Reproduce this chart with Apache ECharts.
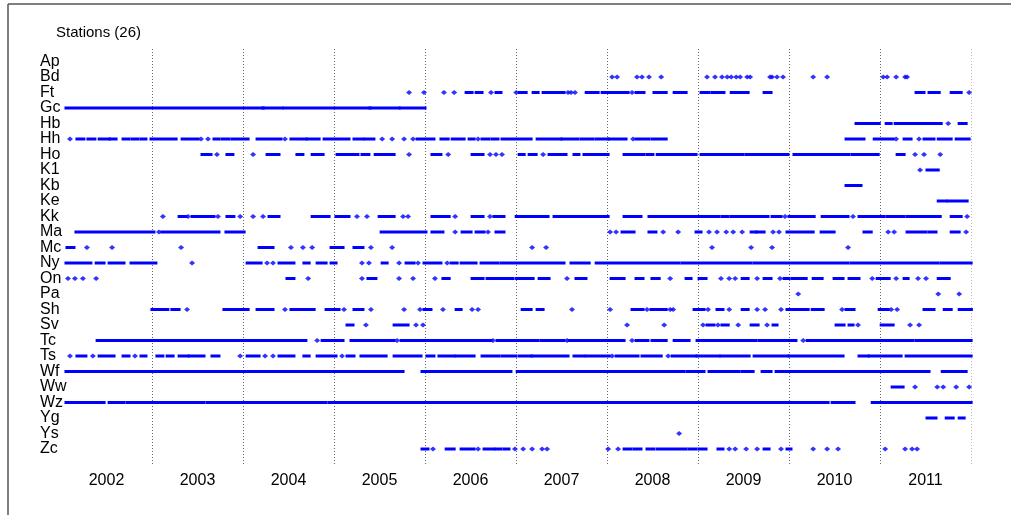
<!DOCTYPE html>
<html><head><meta charset="utf-8">
<script src="https://cdn.jsdelivr.net/npm/echarts@6/dist/echarts.min.js"></script>
<style>html,body{margin:0;padding:0;background:#fff}#c{width:1011px;height:515px}</style>
</head><body><div id="c"></div>
<script>
// Values are day offsets from 1 Jan 2002; a number is one observation, [a,b] a continuous run.
const stations = ['Ap','Bd','Ft','Gc','Hb','Hh','Ho','K1','Kb','Ke','Kk','Ma','Mc','Ny','On','Pa','Sh','Sv','Tc','Ts','Wf','Ww','Wz','Yg','Ys','Zc'];
const years = ['2002','2003','2004','2005','2006','2007','2008','2009','2010','2011'];
const Ap = [];
const Bd = [2212,2232,2312,2332,2360,2409,2593,2625,2653,2674,2690,2710,2726,2754,2766,2846,2854,2874,2898,3019,3075,3300,3316,3352,3388,3396];
const Ft = [1397,1457,1537,1578,[1630,1646],[1670,1686],1726,[1750,1762],1827,[1843,1863],[1899,1911],[1939,2015],2035,2047,2063,[2112,2152],[2176,2272],2292,[2312,2336],[2384,2425],[2465,2505],[2573,2597],[2617,2657],[2694,2754],[2826,2846],[3436,3460],[3488,3521],[3577,3609],3645];
const Gc = [[24,807],[815,883],[899,1236],[1244,1353],[1365,1457]];
const Hb = [[3195,3280],[3316,3328],[3352,3500],[3517,3529],3561,[3609,3629]];
const Hh = [36,[68,88],[112,132],[157,189],[201,217],[253,269],[289,305],[325,337],[365,458],[490,546],562,590,[618,630],[650,670],[690,747],[791,879],899,[927,979],[992,1032],[1060,1152],[1180,1208],[1224,1252],1289,1329,1377,1413,[1433,1493],[1529,1550],[1574,1614],[1642,1654],1674,[1694,1714],[1734,1750],[1774,1883],[1915,2003],[2015,2071],[2091,2132],[2152,2192],[2204,2264],2296,[2312,2356],[2376,2425],[3155,3219],[3268,3336],3352,[3388,3408],3444,[3468,3500],[3525,3569],[3597,3641]];
const Ho = [[570,598],626,[670,686],771,[831,871],[951,967],[1012,1048],[1112,1188],[1212,1232],[1265,1293],[1305,1333],1397,[1493,1521],1554,[1654,1690],1722,1746,1770,[1843,1855],[1883,1903],1935,[1963,2023],[2063,2075],[2103,2192],[2264,2292],[2300,2336],[2356,2372],[2397,2465],[2477,2545],[2573,2605],[2617,2637],[2653,2734],[2754,2914],[2946,3019],[3035,3159],[3179,3276],[3360,3380],3428,3464,3529];
const K1 = [3448,[3480,3517]];
const Kb = [[3155,3207]];
const Ke = [[3525,3549],[3565,3633]];
const Kk = [409,[478,498],510,[530,610],630,[670,690],719,771,811,[839,871],[1012,1072],[1108,1152],1188,1228,[1281,1333],1373,1393,[1493,1554],1582,[1654,1690],1722,[1742,1774],[1831,1951],[1983,2192],[2264,2324],[2364,2577],[2593,2637],[2657,2674],[2694,2738],[2754,2834],[2858,2886],2906,[2926,3019],[3059,3155],3179,[3207,3300],[3320,3380],[3400,3476],[3488,3525],[3577,3609],3637];
const Ma = [[64,369],393,[409,630],[666,731],[1289,1461],[1493,1529],1582,[1614,1642],[1670,1694],1714,[1750,1774],2204,2228,[2256,2296],[2364,2384],2417,2477,[2553,2565],2601,2633,2670,2698,2734,[2774,2786],[2798,2818],2858,2882,[2918,3015],[3055,3099],[3227,3248],3320,3344,[3400,3468],[3488,3508],[3577,3601],3633];
const Mc = [[28,48],104,205,482,[799,847],923,971,1008,[1088,1128],[1180,1208],1244,1329,1891,1947,2613,2770,2854,3159];
const Ny = [[24,116],[145,169],[197,249],[285,377],526,[751,799],827,851,[879,931],[979,992],[1032,1060],[1088,1100],1208,1236,[1293,1305],1357,[1389,1413],1433,[1461,1521],1550,[1570,1586],[1610,1662],[1690,1750],[1770,2015],[2051,2116],[2152,2477],[2497,2766],[2786,3155],[3175,3517],[3537,3649]];
const On = [28,56,88,141,[911,931],992,1208,[1236,1260],1357,1413,1501,[1537,1554],[1654,1690],[1714,1810],[1831,1891],[1923,1955],2031,[2071,2103],[2212,2256],[2312,2332],[2376,2397],2445,[2513,2525],[2565,2585],2649,2682,2706,[2738,2754],2794,[2826,2846],2886,[2906,2918],[2938,2987],[3023,3051],[3107,3135],[3167,3199],3256,[3280,3320],3352,[3388,3396],3440,3472,[3525,3561]];
const Pa = [2959,3521,3605];
const Sh = [[369,425],[449,470],506,[658,678],[690,747],[791,847],899,[927,1012],[1068,1112],1136,[1180,1208],1244,1377,1441,[1461,1481],1533,[1590,1602],1650,1674,[1855,1883],[1915,1931],2051,2204,[2296,2332],2352,[2372,2425],2445,2457,[2545,2577],2597,[2637,2653],2682,[2738,2754],2794,2826,2890,[2918,2995],[3019,3055],3135,[3155,3179],[3288,3316],3332,3356,[3468,3500],[3549,3569],[3609,3650]];
const Sv = [[1152,1168],1224,[1341,1389],1425,1453,2272,2421,2577,[2597,2617],2637,[2657,2674],2718,[2774,2794],2834,[2862,2870],[3115,3139],[3167,3175],3199,[3296,3336],3408,3444];
const Tc = [[149,446],[458,690],[698,891],[907,943],[959,979],1028,[1052,1128],[1168,1333],1349,[1369,1389],[1401,1461],[1473,1722],1734,[1754,1831],[1843,1871],[1883,1911],[1931,1963],[1975,2015],2031,[2043,2164],[2176,2256],2292,[2312,2352],[2376,2425],[2465,2517],[2557,2734],[2746,2786],[2806,2946],2979,[2999,3416],[3436,3649]];
const Ts = [36,[68,96],128,[157,209],[253,269],297,[325,337],[389,405],[430,446],[478,506],[518,570],[610,630],719,[751,791],819,851,[879,931],[979,992],[1032,1100],1128,[1152,1172],[1208,1301],[1341,1441],[1473,1493],[1521,1574],[1590,1654],[1694,1754],[1774,1822],[1843,1883],[1895,2031],[2063,2095],[2112,2196],2212,[2232,2312],[2336,2405],2437,[2457,2545],[2557,2637],[2653,2758],[2786,2914],[2926,3135],[3207,3236],[3248,3368],[3396,3649]];
const Wf = [[24,634],[642,903],[911,1369],[1453,1802],[1835,2497],[2517,2577],[2605,2718],[2738,2774],[2818,2846],[2874,3480],[3541,3629]];
const Ww = [[3340,3376],3428,3517,3541,3593,3645];
const Wz = [[24,169],[197,249],[269,289],[305,546],[558,570],[590,1060],[1080,3035],[3047,3075],[3099,3139],[3155,3179],[3260,3649]];
const Yg = [[3480,3508],[3557,3577],[3609,3621]];
const Ys = [2481];
const Zc = [[1453,1469],1493,[1550,1574],[1610,1654],1674,[1702,1734],[1750,1762],[1782,1794],1822,1855,1891,1931,1951,2196,2236,[2264,2284],[2304,2324],[2356,2376],[2397,2505],[2525,2545],[2565,2585],[2641,2653],2682,2706,2750,2794,[2826,2838],2890,[2918,2926],3019,3075,3119,3308,3388,3416,3436];
const tracks = [Ap,Bd,Ft,Gc,Hb,Hh,Ho,K1,Kb,Ke,Kk,Ma,Mc,Ny,On,Pa,Sh,Sv,Tc,Ts,Wf,Ww,Wz,Yg,Ys,Zc];

const runData = [], ptData = [];
tracks.forEach((arr, i) => arr.forEach(v => {
  if (Array.isArray(v)) runData.push([v[0], v[1], i]); else ptData.push([v, i]);
}));

const BLUE = '#0000ff';
const FONT = 'Liberation Sans';
const YEAR = 365.25;
const chart = echarts.init(document.getElementById('c'), null, {renderer: 'canvas'});
chart.setOption({
  animation: false,
  backgroundColor: '#fff',
  title: {text: 'Stations (26)', left: 51, top: 20,
    textStyle: {fontFamily: FONT, fontSize: 15, fontWeight: 'normal', color: '#000'}},
  graphic: [
    {type: 'line', shape: {x1: 8, y1: 4, x2: 1011, y2: 4}, style: {stroke: '#555', lineWidth: 1.5}, silent: true},
    {type: 'line', shape: {x1: 8, y1: 4, x2: 8, y2: 515}, style: {stroke: '#555', lineWidth: 1.5}, silent: true}
  ],
  grid: [
    {left: 61, right: 40, top: 49, bottom: 50},
    {left: 61, right: 40, top: 53.75, height: 403}
  ],
  xAxis: [
    {gridIndex: 0, type: 'value', min: 0, max: 10 * YEAR, interval: YEAR,
      axisLine: {show: false}, axisTick: {show: false}, axisLabel: {show: false},
      splitLine: {show: true, showMinLine: false, showMaxLine: true,
        lineStyle: {color: ['#666','#666','#666','#666','#666','#666','#666','#666','#666','#bbb'], type: [1, 2], width: 1}}},
    {gridIndex: 0, type: 'category', data: years, boundaryGap: true, position: 'bottom',
      axisLine: {show: false}, axisTick: {show: false},
      axisLabel: {fontFamily: FONT, fontSize: 16, color: '#000', margin: 8}},
    {gridIndex: 1, type: 'value', min: 0, max: 10 * YEAR, interval: YEAR, show: false, splitLine: {show: false}}
  ],
  yAxis: [
    {gridIndex: 0, type: 'value', show: false, splitLine: {show: false}},
    {gridIndex: 1, type: 'category', data: stations, inverse: true, boundaryGap: true,
      axisLine: {show: false}, axisTick: {show: false}, splitLine: {show: false},
      axisLabel: {fontFamily: FONT, fontSize: 16, color: '#000', align: 'left', margin: 21, interval: 0}}
  ],
  series: [
    {type: 'custom', xAxisIndex: 2, yAxisIndex: 1, data: runData, encode: {x: [0, 1], y: 2},
      renderItem: function (params, api) {
        const s = api.coord([api.value(0), api.value(2)]);
        const e = api.coord([api.value(1), api.value(2)]);
        return {type: 'rect', shape: {x: s[0] - 2.5, y: s[1] - 1.5, width: e[0] - s[0] + 5, height: 3},
          style: {fill: BLUE}};
      }},
    {type: 'scatter', xAxisIndex: 2, yAxisIndex: 1, data: ptData, symbol: 'diamond', symbolSize: [6, 5],
      itemStyle: {color: BLUE}}
  ]
});
</script></body></html>
